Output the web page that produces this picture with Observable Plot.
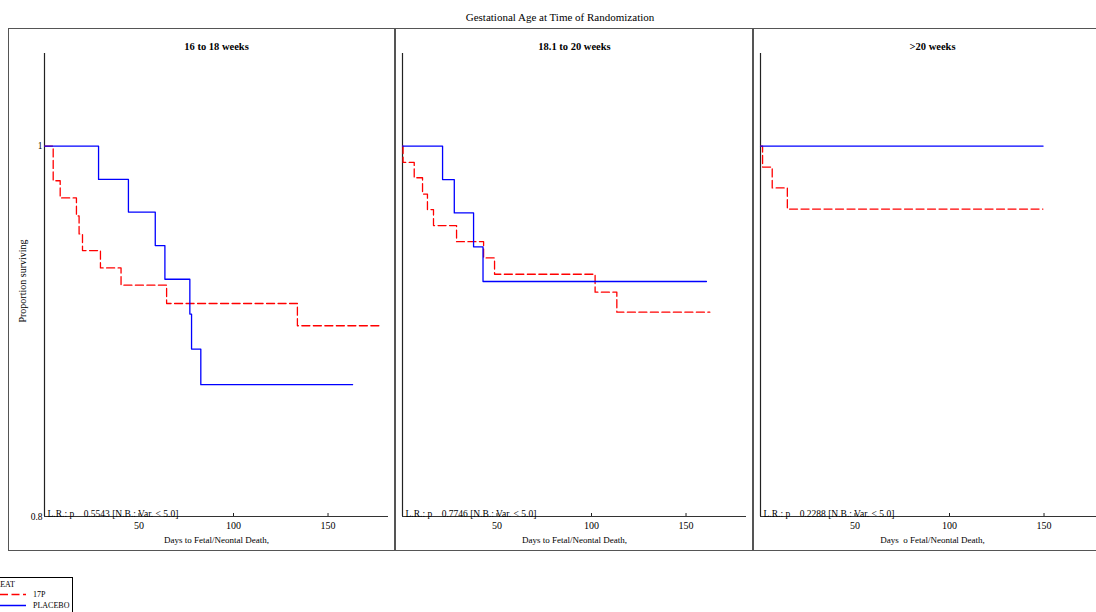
<!DOCTYPE html>
<html>
<head>
<meta charset="utf-8">
<script src="https://cdn.jsdelivr.net/npm/d3@7"></script>
<script src="https://cdn.jsdelivr.net/npm/@observablehq/plot@0.6"></script>
<style>
  html, body { margin: 0; padding: 0; background: #fff; }
  #page { position: relative; width: 1096px; height: 612px; overflow: hidden; font-family: "Liberation Serif", "Times New Roman", serif; color: #000; }
  .abs { position: absolute; }
  #page svg { max-width: none !important; }
</style>
</head>
<body>
<div id="page"></div>
<script>
// ---------- data ----------
const mainTitle = "Gestational Age at Time of Randomization";
const panelTitles = ["16 to 18 weeks", "18.1 to 20 weeks", ">20 weeks"];
const pValues = ["0.5543", "0.7746", "0.2288"];
const xAxisTitles = ["Days to Fetal/Neontal Death,", "Days to Fetal/Neontal Death,", "Days\u00a0 o Fetal/Neontal Death,"];
const yAxisTitle = "Proportion surviving";
const xTicks = [50, 100, 150];
const yTicks = [0.8, 1];
const groups = ["17P", "PLACEBO"];
const legendTitle = "TREAT";

const p1Days17P = [0, 4.6, 8.3, 16.9, 18.3, 20.1, 29.6, 40.5, 64.6, 133.8, 177.1];
const p1Surv17P = [1, 0.9813, 0.9720, 0.9623, 0.9526, 0.9436, 0.9342, 0.9249, 0.9150, 0.9030, 0.9030];
const p1DaysPlacebo = [0, 28.6, 44.4, 58.6, 63.7, 76.9, 77.8, 82.7, 163.0];
const p1SurvPlacebo = [1, 0.9820, 0.9644, 0.9463, 0.9281, 0.9093, 0.8904, 0.8712, 0.8712];

const p2Days17P = [0, 0.3, 6.2, 10.6, 13.2, 16.4, 28.6, 42.9, 48.7, 101.9, 113.4, 162.6];
const p2Surv17P = [1, 0.9912, 0.9829, 0.9741, 0.9657, 0.9571, 0.9484, 0.9396, 0.9308, 0.9211, 0.9103, 0.9103];
const p2DaysPlacebo = [0, 21.2, 27.4, 37.6, 42.6, 160.8];
const p2SurvPlacebo = [1, 0.9819, 0.9639, 0.9456, 0.9269, 0.9269];

const p3Days17P = [0, 1.1, 6.2, 14.2, 149.4];
const p3Surv17P = [1, 0.9887, 0.9774, 0.9660, 0.9660];
const p3DaysPlacebo = [0, 149.5];
const p3SurvPlacebo = [1, 1];

// ---------- build ----------
const seriesByPanel = [
  [[p1Days17P, p1Surv17P], [p1DaysPlacebo, p1SurvPlacebo]],
  [[p2Days17P, p2Surv17P], [p2DaysPlacebo, p2SurvPlacebo]],
  [[p3Days17P, p3Surv17P], [p3DaysPlacebo, p3SurvPlacebo]]
];
const colors = {"17P": "#ff0000", "PLACEBO": "#0000ff"};
const dashes = {"17P": "8,3.5", "PLACEBO": null};

const page = document.getElementById("page");
function add(html) { page.insertAdjacentHTML("beforeend", html); }

// main title
add(`<div class="abs" style="left:0;width:1120px;top:10px;text-align:center;font-size:11px;line-height:14px;">${mainTitle}</div>`);
// outer frame
add(`<div class="abs" style="left:8px;top:28px;width:1200px;height:521px;border:1.5px solid #555;"></div>`);
// dividers
add(`<div class="abs" style="left:394px;top:28px;width:1.5px;height:523px;background:#555;"></div>`);
add(`<div class="abs" style="left:752px;top:28px;width:1.5px;height:523px;background:#555;"></div>`);

const panelLefts = [8, 395, 753];
const panelWidths = [387, 358, 358];
const panelMarginLeft = [36, 7, 7];

panelTitles.forEach((title, i) => {
  const rows = [];
  seriesByPanel[i].forEach(([days, surv], g) => {
    days.forEach((d, k) => rows.push({group: groups[g], day: d, surv: surv[k]}));
  });
  const lrText = `L.R.: p\u00a0\u00a0\u00a0 ${pValues[i]} [N.B.: Var. < 5.0]`;
  const marks = [
    Plot.ruleX([0], {y1: 0.8, y2: 1.05, stroke: "#222", strokeWidth: 1.2}),
    Plot.ruleY([0.8], {stroke: "#333", strokeWidth: 1.2}),
    Plot.ruleX(xTicks, {x: d => d, y1: 0.8, y2: 0.8, insetBottom: 3, stroke: "#222"}),
    Plot.text(xTicks, {x: d => d, text: d => String(d), frameAnchor: "bottom", dy: 12, fontSize: 10}),
    Plot.text([xAxisTitles[i]], {frameAnchor: "bottom", dy: 26, fontSize: 9}),
    Plot.text([lrText], {frameAnchor: "bottom-left", dx: 3, dy: 0, textAnchor: "start", lineAnchor: "bottom", fontSize: 9.5}),
    Plot.text([title], {frameAnchor: "top", dy: -11, fontWeight: "bold", fontSize: 10.5}),
    Plot.line(rows.filter(r => r.group === "17P"), {x: "day", y: "surv", stroke: colors["17P"], strokeWidth: 1.3, strokeDasharray: dashes["17P"], curve: "step-after"}),
    Plot.line(rows.filter(r => r.group === "PLACEBO"), {x: "day", y: "surv", stroke: colors["PLACEBO"], strokeWidth: 1.3, curve: "step-after"})
  ];
  if (i === 0) {
    marks.push(
      Plot.text(yTicks, {y: d => d, text: d => String(d), frameAnchor: "left", textAnchor: "end", dx: -2, fontSize: 9.5}),
      Plot.text([yAxisTitle], {frameAnchor: "left", textAnchor: "middle", rotate: -90, dx: -22, dy: -4, fontSize: 10})
    );
  }
  const chart = Plot.plot({
    width: panelWidths[i],
    height: 522,
    marginLeft: panelMarginLeft[i],
    marginRight: 7,
    marginTop: 24,
    marginBottom: 35,
    x: {domain: [0, 182], axis: null},
    y: {domain: [0.8, 1.05], axis: null},
    style: {fontFamily: "'Liberation Serif', 'Times New Roman', serif", fontSize: "9px", background: "transparent", color: "#000", overflow: "visible", maxWidth: "none"},
    marks
  });
  const wrap = document.createElement("div");
  wrap.className = "abs";
  wrap.style.left = panelLefts[i] + "px";
  wrap.style.top = "29px";
  wrap.style.width = panelWidths[i] + "px";
  wrap.style.height = "522px";
  wrap.appendChild(chart);
  page.appendChild(wrap);
});

// legend
const legendHtml = `
<div class="abs" style="left:-14px;top:577px;width:85px;height:60px;border:1px solid #000;"></div>
<div class="abs" style="left:-10px;top:580px;font-size:8px;line-height:9px;">${legendTitle}</div>
<svg class="abs" style="left:0;top:588px;" width="30" height="22">
  <line x1="0" x2="26" y1="6.5" y2="6.5" stroke="${colors['17P']}" stroke-width="1.3" stroke-dasharray="${dashes['17P']}"/>
  <line x1="0" x2="26" y1="17.5" y2="17.5" stroke="${colors['PLACEBO']}" stroke-width="1.5"/>
</svg>
<div class="abs" style="left:33px;top:590px;font-size:8px;line-height:9px;">${groups[0]}</div>
<div class="abs" style="left:33px;top:601px;font-size:8px;line-height:9px;">${groups[1]}</div>`;
add(legendHtml);
</script>
</body>
</html>
